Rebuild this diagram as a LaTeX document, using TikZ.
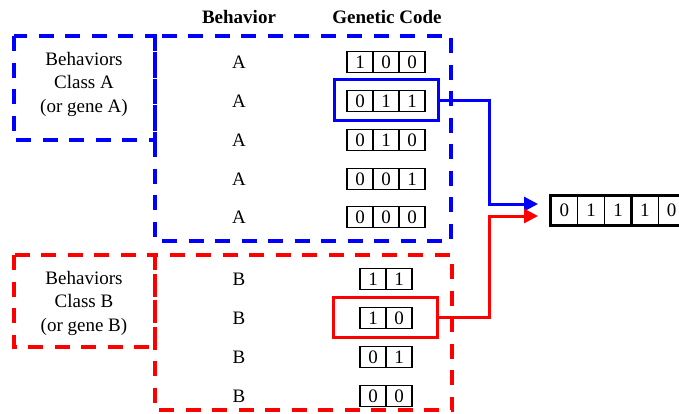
\documentclass[tikz,border=0pt]{standalone}
\usepackage{fontspec}
\setmainfont{Liberation Serif}
\usetikzlibrary{arrows.meta}
\begin{document}
\begin{tikzpicture}[x=1pt,y=-1pt,
  every node/.style={font=\fontsize{19}{23.5}\selectfont, inner sep=0pt},
  cell/.style={draw=black, line width=1.2pt, minimum width=26pt, minimum height=20.5pt},
  rcell/.style={draw=black, line width=0.9pt, minimum width=26.8pt, minimum height=29pt},
  dashbox/.style={line width=3.4pt, dash pattern=on 15pt off 11.5pt},
  hl/.style={draw, line width=3pt, minimum width=104pt, minimum height=40.5pt},
  link/.style={line width=3pt, -{Triangle[length=14pt,width=14pt]}},
  hdr/.style={font=\fontsize{19}{23}\selectfont\bfseries},
]
\useasboundingbox (0,0) rectangle (679,413);

% headers
\node[hdr] (hBeh) at (239,17) {Behavior};
\node[hdr] (hCode) at (387,17) {Genetic Code};

% class A
\draw[dashbox, blue] (14,36) rectangle (155,140);
\draw[dashbox, blue] (155,36) rectangle (451,241);
\node[align=center] (clA) at (84,84) {Behaviors\\Class A\\(or gene A)};

% class B
\draw[dashbox, red] (14,255) rectangle (155,347);
\draw[dashbox, red] (155,255) rectangle (452,410);
\node[align=center] (clB) at (84,303) {Behaviors\\Class B\\(or gene B)};

% rows A
\foreach \r/\y/\a/\b/\c in {1/62/1/0/0, 2/101/0/1/1, 3/140/0/1/0, 4/179/0/0/1, 5/217/0/0/0} {
  \node (lA\r) at (239,\y) {A};
  \node[cell] (a\r x) at (360,\y) {\a};
  \node[cell] (a\r y) at (386,\y) {\b};
  \node[cell] (a\r z) at (412,\y) {\c};
}

% rows B
\foreach \r/\y/\a/\b in {1/279/1/1, 2/318/1/0, 3/357/0/1, 4/396/0/0} {
  \node (lB\r) at (239,\y) {B};
  \node[cell] (b\r x) at (373,\y) {\a};
  \node[cell] (b\r y) at (399,\y) {\b};
}

% highlights
\node[hl, draw=blue] (hlA) at (386,100) {};
\node[hl, draw=red] (hlB) at (385.5,317.5) {};

% result
\node[rcell] (r1) at (564.4,210.5) {0};
\node[rcell] (r2) at (591.2,210.5) {1};
\node[rcell] (r3) at (618.0,210.5) {1};
\node[rcell] (r4) at (644.8,210.5) {1};
\node[rcell] (r5) at (671.6,210.5) {0};
\draw[line width=3pt] (r1.north west) rectangle (r5.south east);
\draw[line width=3pt] (r3.north east) -- (r3.south east);

% connectors
\coordinate (jA) at (489,204);
\coordinate (tA) at (538,204);
\coordinate (jB) at (489,216);
\coordinate (tB) at (538,216);
\draw[link, blue] (hlA.east) -| (jA) -- (tA);
\draw[link, red] (hlB.east) -| (jB) -- (tB);
\end{tikzpicture}
\end{document}
